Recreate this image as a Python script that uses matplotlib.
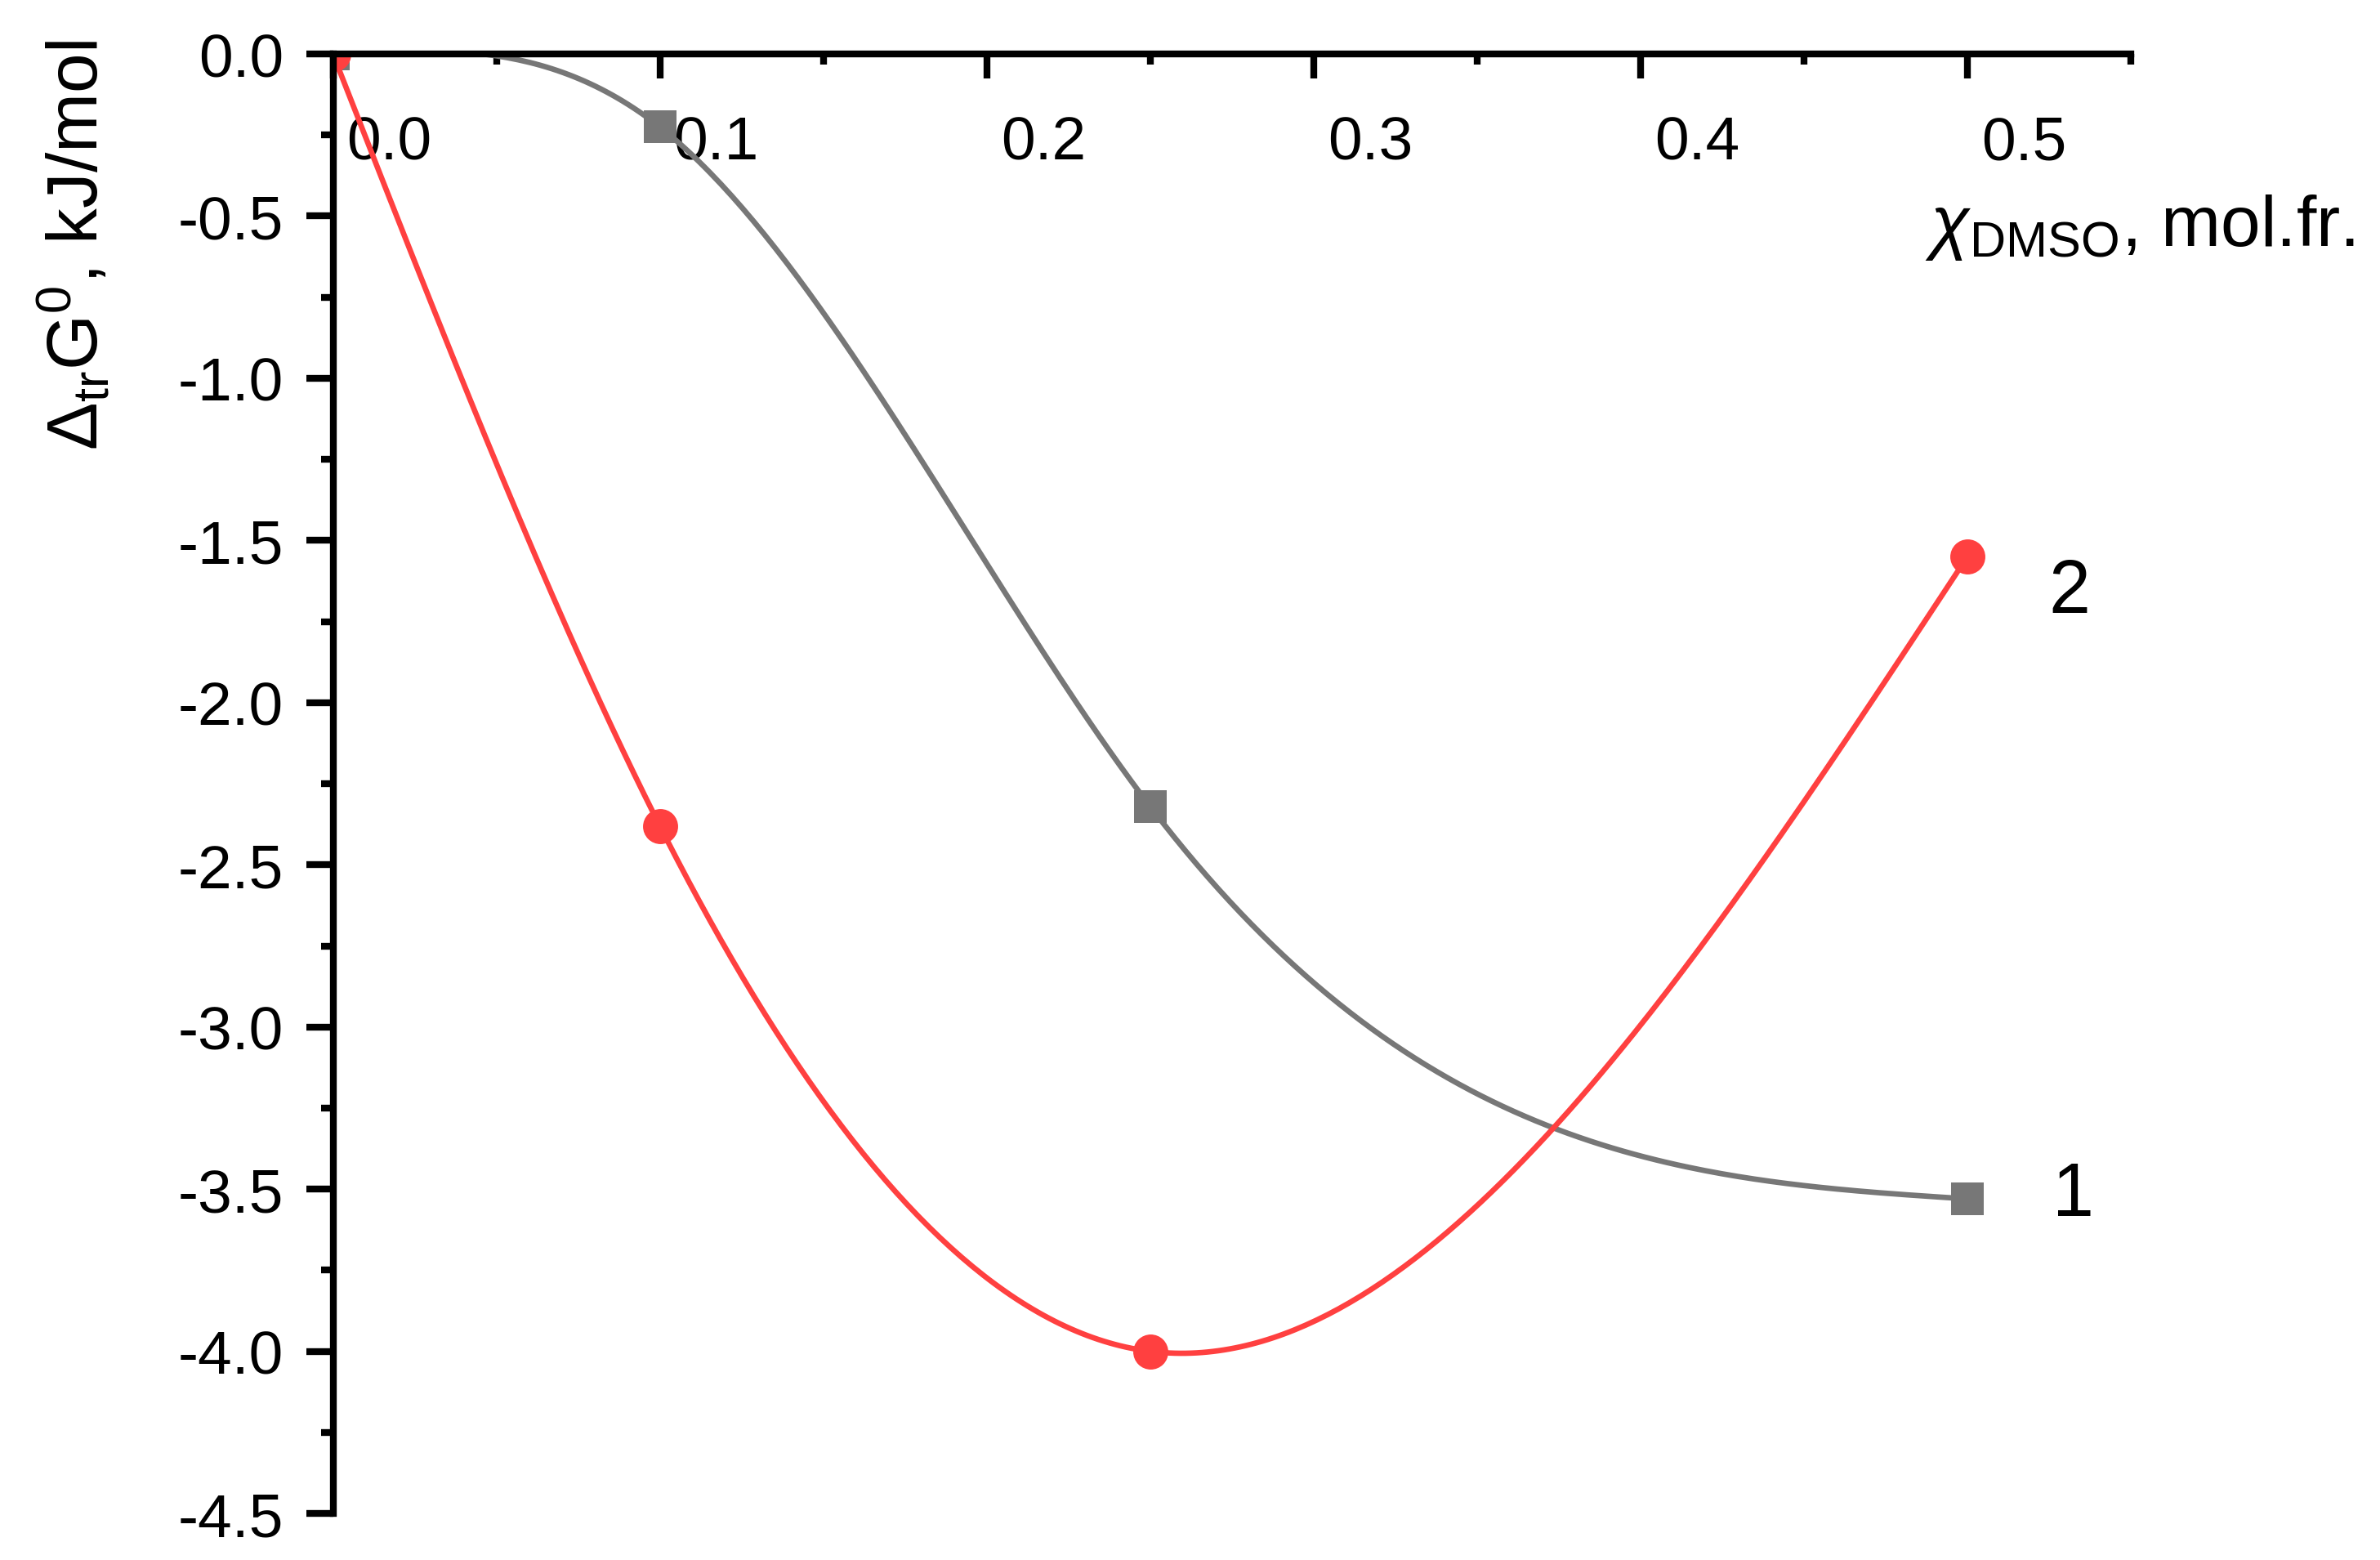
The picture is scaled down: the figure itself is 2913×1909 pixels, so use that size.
import numpy as np
import matplotlib
matplotlib.use("Agg")
import matplotlib.pyplot as plt
from matplotlib import transforms

plt.rcParams["font.family"] = ["Liberation Sans", "DejaVu Sans"]
plt.rcParams["mathtext.fontset"] = "custom"
plt.rcParams["mathtext.rm"] = "Liberation Sans"
plt.rcParams["mathtext.it"] = "Liberation Sans:italic"
plt.rcParams["mathtext.sf"] = "Liberation Sans"

# mole fraction of DMSO
x_dmso = [0.0, 0.1, 0.25, 0.5]
# curve 1 (gray squares) and curve 2 (red circles), kJ/mol
dG_1 = [0.0, -0.225, -2.32, -3.53]
dG_2 = [0.0, -2.38, -4.0, -1.55]

x_ticks = [0.0, 0.1, 0.2, 0.3, 0.4, 0.5]
y_ticks = [0.0, -0.5, -1.0, -1.5, -2.0, -2.5, -3.0, -3.5, -4.0, -4.5]

GRAY = "#777777"
RED = "#FF4040"


def natural_spline(x, y, n=300):
    """natural cubic spline through the points (like Origin's spline connect)"""
    x = np.asarray(x, float)
    y = np.asarray(y, float)
    k = len(x)
    h = np.diff(x)
    A = np.zeros((k, k))
    r = np.zeros(k)
    A[0, 0] = A[-1, -1] = 1.0
    for i in range(1, k - 1):
        A[i, i - 1] = h[i - 1]
        A[i, i] = 2 * (h[i - 1] + h[i])
        A[i, i + 1] = h[i]
        r[i] = 6 * ((y[i + 1] - y[i]) / h[i] - (y[i] - y[i - 1]) / h[i - 1])
    M = np.linalg.solve(A, r)
    xs = np.linspace(x[0], x[-1], n)
    idx = np.clip(np.searchsorted(x, xs) - 1, 0, k - 2)
    x0, x1 = x[idx], x[idx + 1]
    hh = h[idx]
    ys = (M[idx] * (x1 - xs) ** 3 / (6 * hh) + M[idx + 1] * (xs - x0) ** 3 / (6 * hh)
          + (y[idx] / hh - M[idx] * hh / 6) * (x1 - xs)
          + (y[idx + 1] / hh - M[idx + 1] * hh / 6) * (xs - x0))
    return xs, ys


fig = plt.figure(figsize=(2913 / 300, 1910 / 300), dpi=300)
ax = fig.add_axes([0.1399, 0.0298, 0.8953 - 0.1399, 0.9649 - 0.0298])

xs, ys = natural_spline(x_dmso, dG_1)
ax.plot(xs, ys, color=GRAY, lw=1.6)
ax.plot(x_dmso, dG_1, "s", color=GRAY, ms=9.4, mew=0)

xs, ys = natural_spline(x_dmso, dG_2)
ax.plot(xs, ys, color=RED, lw=1.6)
ax.plot(x_dmso, dG_2, "o", color=RED, ms=10.3, mew=0)

ax.annotate("1", (x_dmso[-1], dG_1[-1]), xytext=(31, 1), textcoords="offset points",
            ha="center", va="center", fontsize=22)
ax.annotate("2", (x_dmso[-1], dG_2[-1]), xytext=(30, -10.5), textcoords="offset points",
            ha="center", va="center", fontsize=22)

ax.set_xlim(0, 0.55)
ax.set_ylim(-4.5, 0)

# x axis drawn along the top edge, labels below it
ax.spines["bottom"].set_position(("axes", 1.0))
ax.spines["top"].set_visible(False)
ax.spines["right"].set_visible(False)
for s in ("bottom", "left"):
    ax.spines[s].set_linewidth(2.0)

ax.set_xticks(x_ticks)
ax.set_xticklabels([f"{v:.1f}" for v in x_ticks])
ax.set_xticks(np.arange(0.05, 0.56, 0.1), minor=True)
ax.set_yticks(y_ticks)
ax.set_yticklabels([f"{v:.1f}" for v in y_ticks])
ax.set_yticks(np.arange(-4.25, 0, 0.5), minor=True)

ax.tick_params(axis="x", which="major", direction="out", length=7.2, width=2, pad=10.6, labelsize=18)
ax.tick_params(axis="x", which="minor", direction="out", length=3, width=2)
ax.tick_params(axis="y", which="major", direction="out", length=8, width=2, pad=6.5, labelsize=18)
ax.tick_params(axis="y", which="minor", direction="out", length=3.6, width=2)

shift = transforms.ScaledTranslation(69 / 300, 0, fig.dpi_scale_trans)
for lab in ax.get_xticklabels():
    lab.set_transform(lab.get_transform() + shift)

fig.text(91 / 2913, 1 - 300 / 1910, r"$\Delta_{\mathrm{tr}}\mathrm{G}^{0}$, kJ/mol",
         rotation=90, ha="center", va="center", fontsize=21)
fig.text(2882 / 2913, 1 - 301 / 1910, r"$\chi_{\mathrm{DMSO}}$, mol.fr.",
         ha="right", va="baseline", fontsize=21)

fig.savefig("out.png", dpi=300)
